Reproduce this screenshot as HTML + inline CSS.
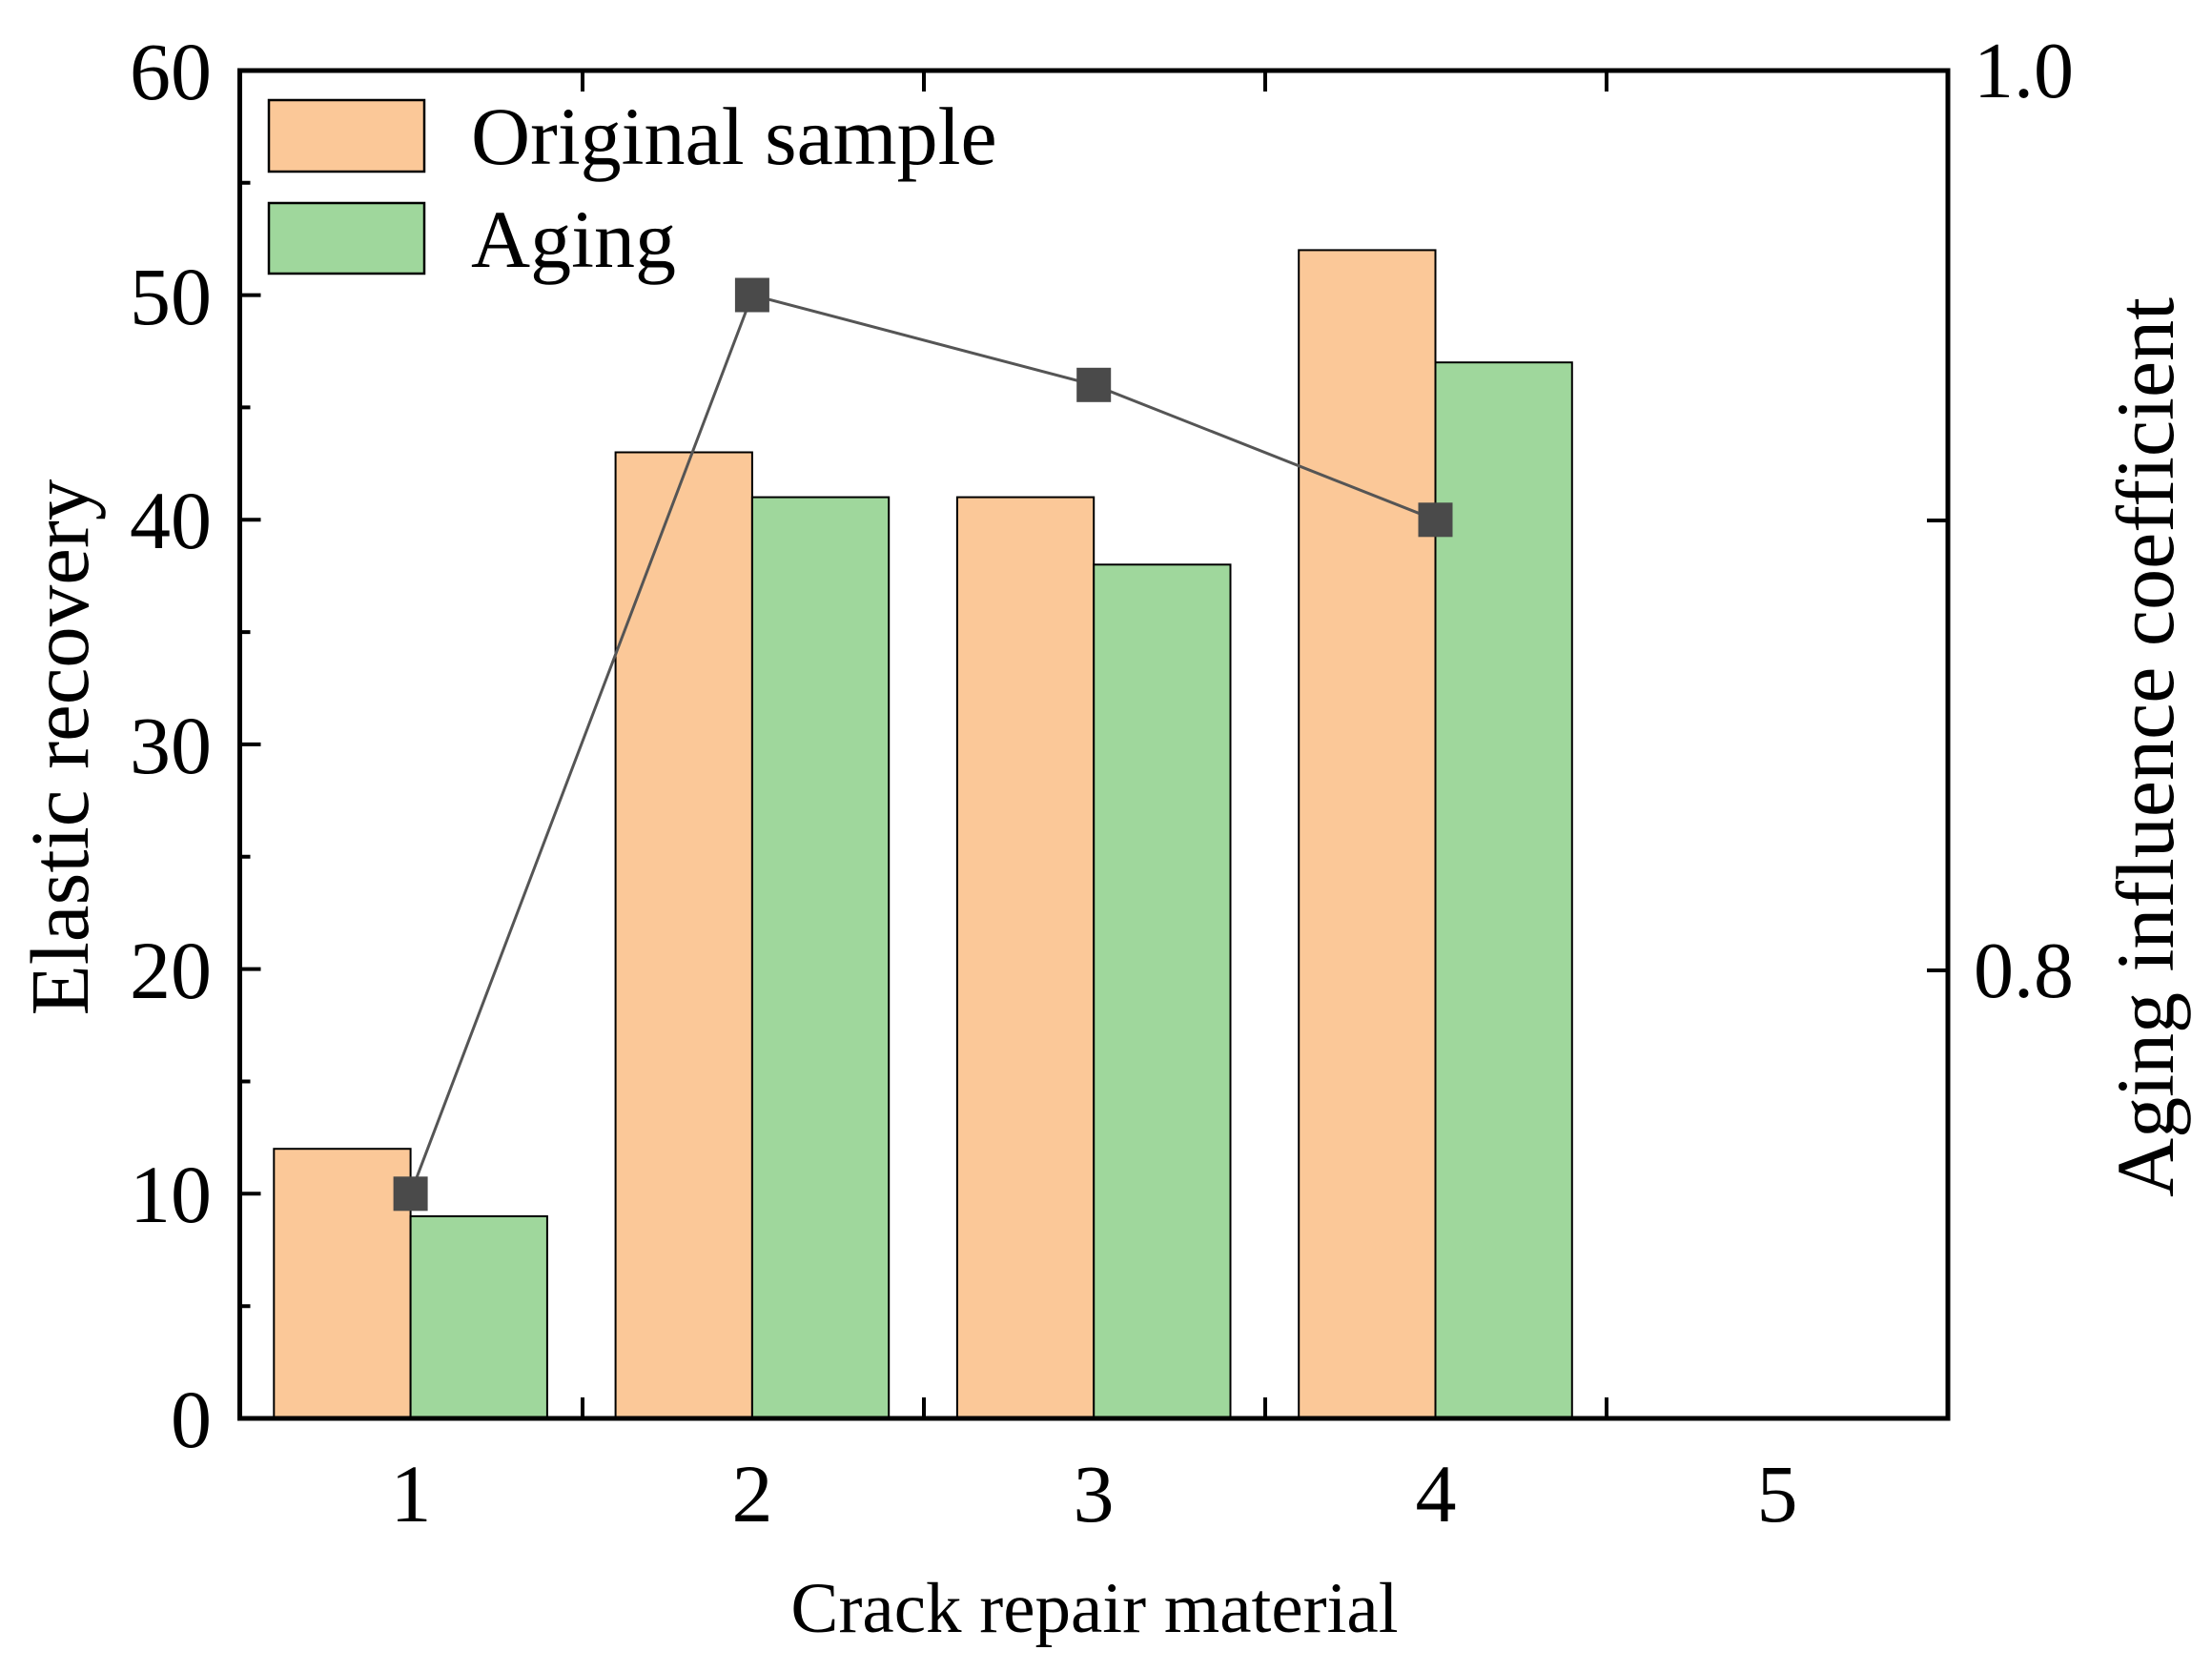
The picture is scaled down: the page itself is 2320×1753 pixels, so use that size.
<!DOCTYPE html>
<html><head><meta charset="utf-8"><style>body{margin:0;background:#fff}svg{display:block}</style></head>
<body>
<svg width="2320" height="1753" viewBox="0 0 2320 1753" xmlns="http://www.w3.org/2000/svg" font-family="Liberation Serif, serif">
<rect width="2320" height="1753" fill="#fff"/>
<g stroke="#000" stroke-width="2">
<rect x="287.3" y="1205.2" width="143.3" height="282.8" fill="#FBC898"/>
<rect x="430.6" y="1275.9" width="143.3" height="212.1" fill="#9FD79C"/>
<rect x="645.6" y="474.5" width="143.3" height="1013.5" fill="#FBC898"/>
<rect x="788.9" y="521.6" width="143.3" height="966.4" fill="#9FD79C"/>
<rect x="1003.9" y="521.6" width="143.3" height="966.4" fill="#FBC898"/>
<rect x="1147.2" y="592.3" width="143.3" height="895.7" fill="#9FD79C"/>
<rect x="1362.2" y="262.4" width="143.3" height="1225.6" fill="#FBC898"/>
<rect x="1505.5" y="380.2" width="143.3" height="1107.8" fill="#9FD79C"/>
</g>
<polyline points="430.6,1252.3 788.9,309.5 1147.2,403.8 1505.5,545.3" fill="none" stroke="#555" stroke-width="3"/>
<g fill="#4a4a4a">
<rect x="412.6" y="1234.3" width="36" height="36"/>
<rect x="770.9" y="291.5" width="36" height="36"/>
<rect x="1129.2" y="385.8" width="36" height="36"/>
<rect x="1487.5" y="527.3" width="36" height="36"/>
</g>
<rect x="251.5" y="74" width="1791.5" height="1414" fill="none" stroke="#000" stroke-width="5"/>
<g stroke="#000" stroke-width="4">
<path d="M251.5 1252.3h22M251.5 1016.6h22M251.5 780.9h22M251.5 545.3h22M251.5 309.6h22"/>
<path d="M251.5 1370.2h11M251.5 1134.5h11M251.5 898.8h11M251.5 663.1h11M251.5 427.4h11M251.5 191.7h11"/>
<path d="M2043 1018h-22M2043 546h-22"/>
<path d="M611 1488v-22M969 1488v-22M1327 1488v-22M1685 1488v-22"/>
<path d="M611 74v22M969 74v22M1327 74v22M1685 74v22"/>
</g>
<g font-size="86" text-anchor="end">
<text x="222" y="1518">0</text>
<text x="222" y="1282">10</text>
<text x="222" y="1047">20</text>
<text x="222" y="811">30</text>
<text x="222" y="575">40</text>
<text x="222" y="340">50</text>
<text x="222" y="104">60</text>
</g>
<g font-size="84">
<text x="2070" y="102">1.0</text>
<text x="2070" y="1046">0.8</text>
</g>
<g font-size="86" text-anchor="middle">
<text x="431" y="1596">1</text>
<text x="789" y="1596">2</text>
<text x="1147" y="1596">3</text>
<text x="1506" y="1596">4</text>
<text x="1864" y="1596">5</text>
</g>
<text x="1148" y="1712" font-size="75" text-anchor="middle">Crack repair material</text>
<text transform="translate(92,784) rotate(-90)" font-size="87" text-anchor="middle">Elastic recovery</text>
<text transform="translate(2279,784) rotate(-90)" font-size="86" text-anchor="middle">Aging influence coefficient</text>
<rect x="282" y="105" width="163" height="75" fill="#FBC898" stroke="#000" stroke-width="2.5"/>
<rect x="282" y="213" width="163" height="74" fill="#9FD79C" stroke="#000" stroke-width="2.5"/>
<text x="494" y="172" font-size="86">Original sample</text>
<text x="494" y="280" font-size="86">Aging</text>
</svg>
</body></html>
